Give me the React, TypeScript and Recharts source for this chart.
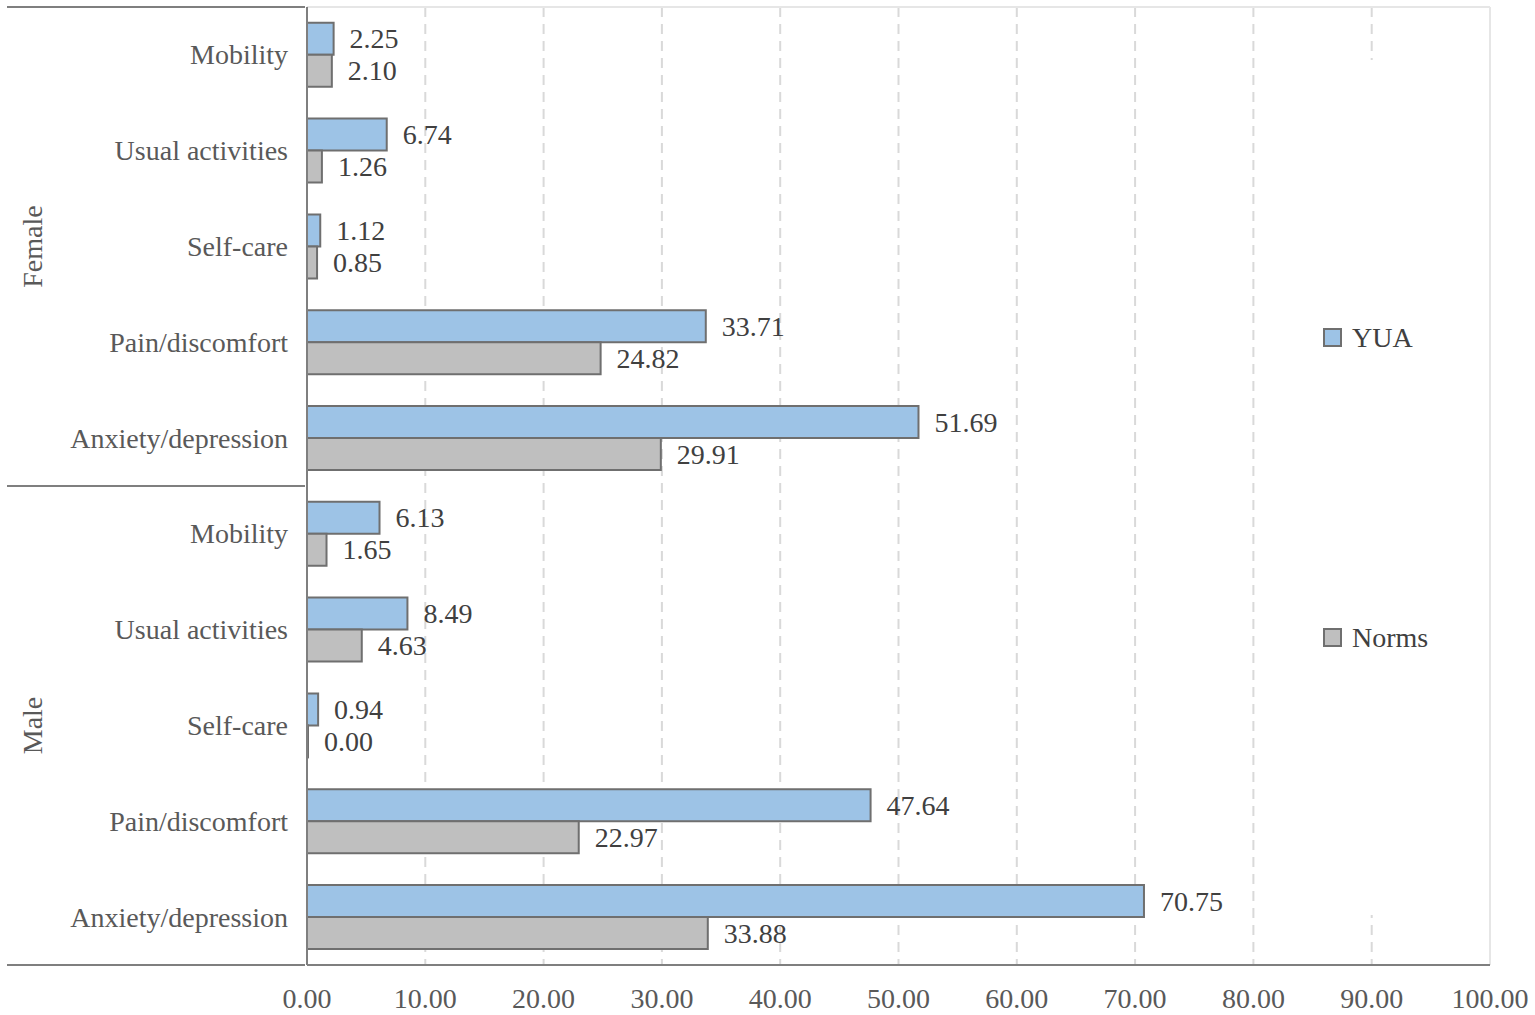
import { BarChart, Bar, XAxis, YAxis, CartesianGrid, Legend, LabelList } from "recharts";

const groups = ["Female", "Male"];
const dimensions = ["Mobility", "Usual activities", "Self-care", "Pain/discomfort", "Anxiety/depression"];
const yuaFemale = [2.25, 6.74, 1.12, 33.71, 51.69];
const normsFemale = [2.1, 1.26, 0.85, 24.82, 29.91];
const yuaMale = [6.13, 8.49, 0.94, 47.64, 70.75];
const normsMale = [1.65, 4.63, 0.0, 22.97, 33.88];
const xTicks = [0, 10, 20, 30, 40, 50, 60, 70, 80, 90, 100];

const series = [
  { key: "yua", name: "YUA", fill: "#9dc3e6", stroke: "#6f6f6f" },
  { key: "norms", name: "Norms", fill: "#bfbfbf", stroke: "#6f6f6f" },
];

const data = [
  ...dimensions.map((d, i) => ({ group: groups[0], dimension: d, yua: yuaFemale[i], norms: normsFemale[i] })),
  ...dimensions.map((d, i) => ({ group: groups[1], dimension: d, yua: yuaMale[i], norms: normsMale[i] })),
];

const FONT = "'Liberation Serif', 'Times New Roman', serif";
const FS = 28;
const W = 1535;
const H = 1015;
const MARGIN = { top: 7, right: 45, bottom: 0, left: 7 };
const X_AXIS_H = 50;
const Y_AXIS_W = 300;
const BAND = (H - MARGIN.top - MARGIN.bottom - X_AXIS_H) / data.length;

const CategoryTick = (props: any) => {
  const { x, y, payload, index } = props;
  const left = MARGIN.left;
  const perGroup = dimensions.length;
  return (
    <g>
      <text x={x - 17} y={y} textAnchor="end" dominantBaseline="central" fill="#595959" fontSize={FS} fontFamily={FONT}>
        {payload.value}
      </text>
      {index % perGroup === 0 && (
        <line x1={left} x2={x} y1={y - BAND / 2} y2={y - BAND / 2} stroke="#7f7f7f" strokeWidth={2} />
      )}
      {index === data.length - 1 && (
        <line x1={left} x2={x} y1={y + BAND / 2} y2={y + BAND / 2} stroke="#7f7f7f" strokeWidth={2} />
      )}
      {index % perGroup === Math.floor(perGroup / 2) && (
        <text
          x={left + 25}
          y={y}
          transform={`rotate(-90 ${left + 25} ${y})`}
          textAnchor="middle"
          dominantBaseline="central"
          fill="#595959"
          fontSize={FS}
          fontFamily={FONT}
        >
          {data[index].group}
        </text>
      )}
    </g>
  );
};

const ValueLabel = (props: any) => {
  const { x, y, width, height, value } = props;
  return (
    <text
      x={Number(x) + Number(width) + 16}
      y={Number(y) + Number(height) / 2}
      dominantBaseline="central"
      fill="#404040"
      fontSize={FS}
      fontFamily={FONT}
    >
      {Number(value).toFixed(2)}
    </text>
  );
};

const LegendBox = () => (
  <div
    style={{
      position: "absolute",
      left: 0,
      top: 0,
      width: 170,
      height: 855,
      display: "flex",
      flexDirection: "column",
      justifyContent: "center",
      gap: 268,
      paddingLeft: 28,
      boxSizing: "border-box",
      background: "#fff",
    }}
  >
    {series.map((s) => (
      <div key={s.key} style={{ display: "flex", alignItems: "center", fontFamily: FONT, fontSize: FS, color: "#404040" }}>
        <span
          style={{
            display: "inline-block",
            width: 15,
            height: 15,
            background: s.fill,
            border: `2px solid ${s.stroke}`,
            marginRight: 10,
          }}
        />
        {s.name}
      </div>
    ))}
  </div>
);

export default function App() {
  return (
    <div style={{ position: "absolute", left: 0, top: 0, background: "#fff" }}>
      <BarChart
        width={W}
        height={H}
        data={data}
        layout="vertical"
        margin={MARGIN}
        barCategoryGap="16.5%"
        barGap={0}
      >
        <CartesianGrid horizontal={false} stroke="#d9d9d9" strokeWidth={2} strokeDasharray="10 7" />
        <CartesianGrid
          stroke="#e6e6e6"
          strokeWidth={2}
          horizontalCoordinatesGenerator={({ offset }: any) => [offset.top]}
          verticalCoordinatesGenerator={({ offset }: any) => [offset.left + offset.width]}
        />
        <XAxis
          type="number"
          domain={[0, 100]}
          ticks={xTicks}
          tickFormatter={(v: number) => v.toFixed(2)}
          height={X_AXIS_H}
          tickLine={false}
          tickSize={0}
          tickMargin={23}
          axisLine={{ stroke: "#7f7f7f", strokeWidth: 2 }}
          tick={{ fill: "#595959", fontSize: FS, fontFamily: FONT }}
        />
        <YAxis
          type="category"
          dataKey="dimension"
          width={Y_AXIS_W}
          tickLine={false}
          tickSize={0}
          axisLine={{ stroke: "#7f7f7f", strokeWidth: 2 }}
          tick={<CategoryTick />}
          interval={0}
        />
        <Legend
          layout="horizontal"
          verticalAlign="middle"
          align="right"
          content={<LegendBox />}
          wrapperStyle={{ left: 1295, top: 60, width: 0, height: 0, overflow: "visible" }}
        />
        {series.map((s) => (
          <Bar
            key={s.key}
            dataKey={s.key}
            name={s.name}
            fill={s.fill}
            stroke={s.stroke}
            strokeWidth={2}
            minPointSize={1}
            isAnimationActive={false}
          >
            <LabelList dataKey={s.key} content={<ValueLabel />} />
          </Bar>
        ))}
      </BarChart>
    </div>
  );
}
